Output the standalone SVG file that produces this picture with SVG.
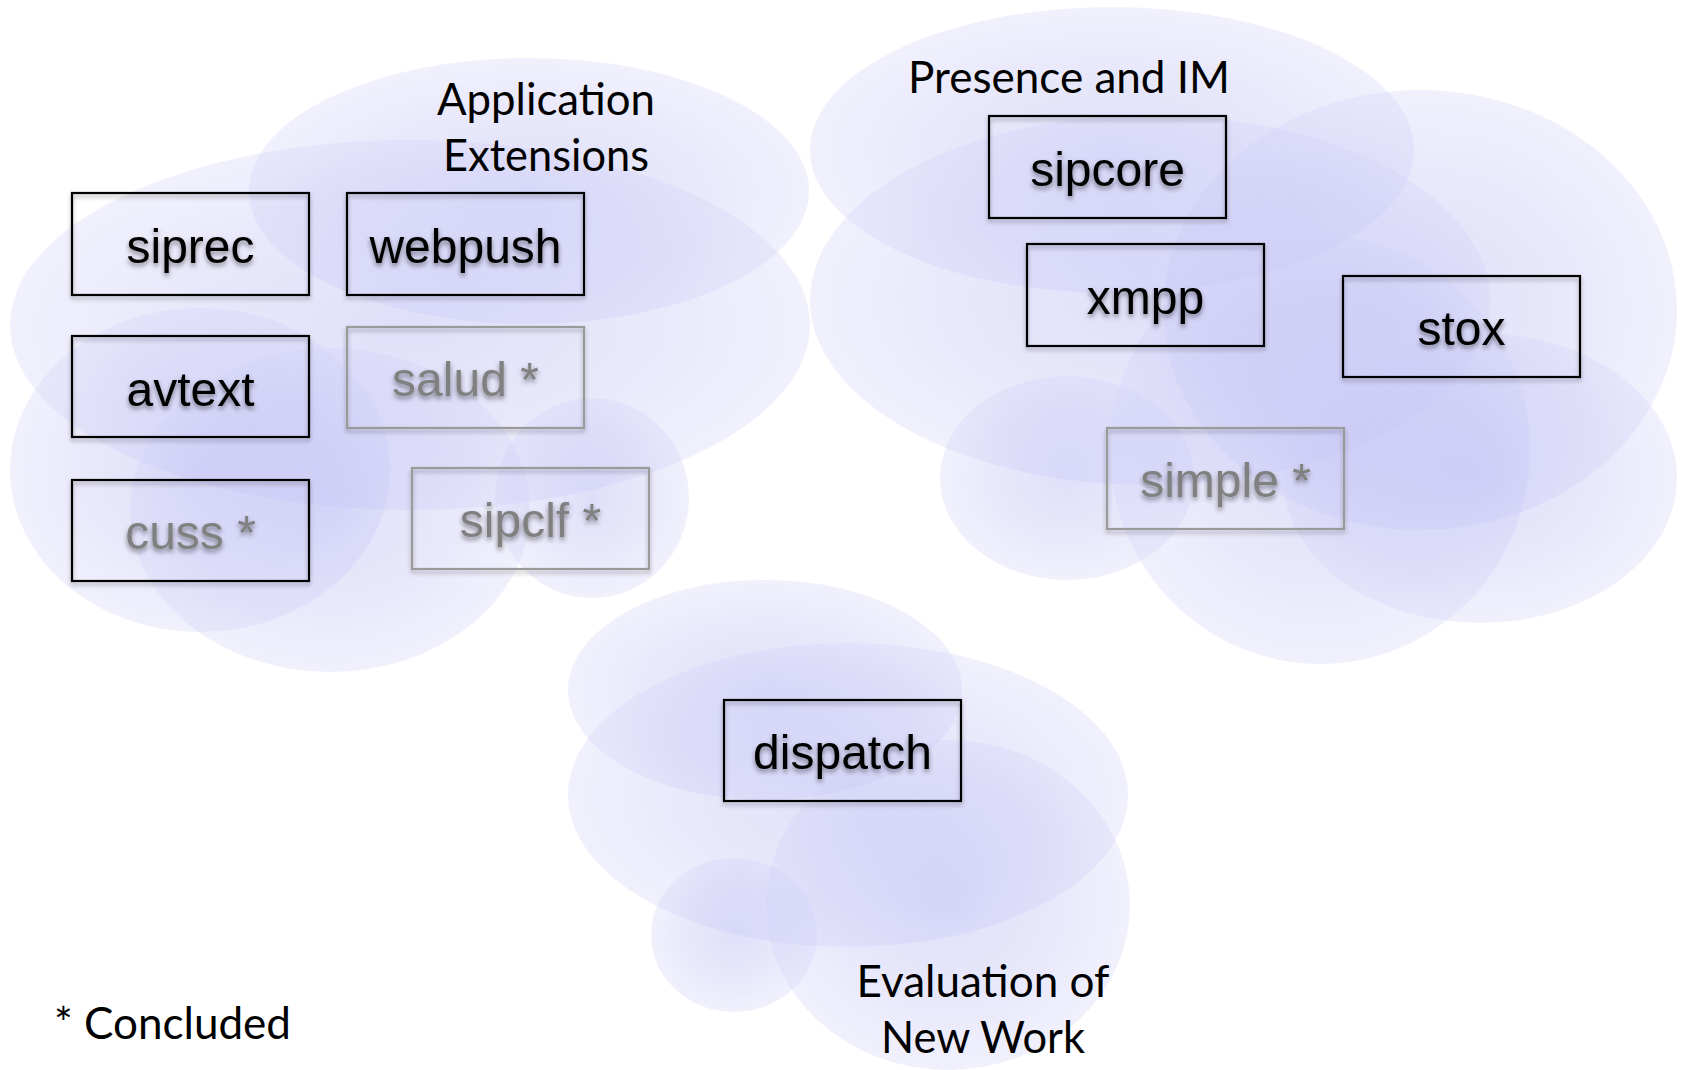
<svg xmlns="http://www.w3.org/2000/svg" width="1685" height="1070" viewBox="0 0 1685 1070">
<defs>
<radialGradient id="cg" cx="50%" cy="50%" r="50%">
<stop offset="0%" stop-color="#b6b6f3" stop-opacity="0.44"/>
<stop offset="70%" stop-color="#c4c4f5" stop-opacity="0.35"/>
<stop offset="100%" stop-color="#d0d0f8" stop-opacity="0.3"/>
</radialGradient>
<filter id="ts" x="-10%" y="-20%" width="120%" height="150%">
<feDropShadow dx="0" dy="3" stdDeviation="2.5" flood-color="#000" flood-opacity="0.45"/>
</filter>
<filter id="bs" x="-5%" y="-10%" width="110%" height="125%">
<feDropShadow dx="0" dy="3" stdDeviation="2" flood-color="#000" flood-opacity="0.3"/>
</filter>
</defs>
<style>
.c{fill:url(#cg)}
.b{fill:none;stroke:#000;stroke-width:2.2;filter:url(#bs)}
.bg{fill:none;stroke:#9a9a9a;stroke-width:2.2;filter:url(#bs)}
.t{font-family:"Liberation Sans",Arial,sans-serif;font-size:48px;fill:#000;text-anchor:middle;filter:url(#ts)}
.tg{font-family:"Liberation Sans",Arial,sans-serif;font-size:48px;fill:#808080;text-anchor:middle;filter:url(#ts)}
.l{font-family:Lato,"Open Sans",sans-serif;font-size:45px;fill:#000}
</style>
<rect width="1685" height="1070" fill="#fff"/>
<g id="clouds">
<g id="cloud-app">
<ellipse class="c" cx="529" cy="191" rx="280" ry="133"/>
<ellipse class="c" cx="410" cy="325" rx="400" ry="185"/>
<ellipse class="c" cx="200" cy="470" rx="190" ry="162"/>
<ellipse class="c" cx="330" cy="510" rx="200" ry="162"/>
<ellipse class="c" cx="592" cy="498" rx="97" ry="100"/>
</g>
<g id="cloud-pres">
<ellipse class="c" cx="1112" cy="150" rx="302" ry="143"/>
<ellipse class="c" cx="1420" cy="310" rx="257" ry="220"/>
<ellipse class="c" cx="1150" cy="300" rx="340" ry="185"/>
<ellipse class="c" cx="1067" cy="478" rx="127" ry="102"/>
<ellipse class="c" cx="1320" cy="450" rx="210" ry="214"/>
<ellipse class="c" cx="1480" cy="478" rx="197" ry="145"/>
</g>
<g id="cloud-eval">
<ellipse class="c" cx="765" cy="690" rx="197" ry="110"/>
<ellipse class="c" cx="848" cy="795" rx="280" ry="152"/>
<ellipse class="c" cx="734" cy="935" rx="83" ry="77"/>
<ellipse class="c" cx="948" cy="905" rx="182" ry="165"/>
</g>
</g>
<g id="labels">
<text class="l" x="546" y="115" text-anchor="middle" textLength="218" lengthAdjust="spacingAndGlyphs">Application</text>
<text class="l" x="546" y="171" text-anchor="middle" textLength="206" lengthAdjust="spacingAndGlyphs">Extensions</text>
<text class="l" x="1069" y="93" text-anchor="middle" textLength="322" lengthAdjust="spacingAndGlyphs">Presence and IM</text>
<text class="l" x="983" y="997" text-anchor="middle" textLength="253" lengthAdjust="spacingAndGlyphs">Evaluation of</text>
<text class="l" x="983" y="1053" text-anchor="middle" textLength="204" lengthAdjust="spacingAndGlyphs">New Work</text>
<text class="l" x="54" y="1039" textLength="237" lengthAdjust="spacingAndGlyphs">* Concluded</text>
</g>
<g id="connectors"></g>
<g id="siprec"><rect class="b" x="72" y="193" width="237" height="102"/><text class="t" x="190.5" y="263">siprec</text></g>
<g id="webpush"><rect class="b" x="347" y="193" width="237" height="102"/><text class="t" x="465.5" y="263">webpush</text></g>
<g id="avtext"><rect class="b" x="72" y="336" width="237" height="101"/><text class="t" x="190.5" y="406">avtext</text></g>
<g id="salud"><rect class="bg" x="347" y="327" width="237" height="101"/><text class="tg" x="465.5" y="396">salud *</text></g>
<g id="cuss"><rect class="b" x="72" y="480" width="237" height="101"/><text class="tg" x="190.5" y="549">cuss *</text></g>
<g id="sipclf"><rect class="bg" x="412" y="468" width="237" height="101"/><text class="tg" x="530.5" y="537">sipclf *</text></g>
<g id="sipcore"><rect class="b" x="989" y="116" width="237" height="102"/><text class="t" x="1107.5" y="186">sipcore</text></g>
<g id="xmpp"><rect class="b" x="1027" y="244" width="237" height="102"/><text class="t" x="1145.5" y="314">xmpp</text></g>
<g id="stox"><rect class="b" x="1343" y="276" width="237" height="101"/><text class="t" x="1461.5" y="345">stox</text></g>
<g id="simple"><rect class="bg" x="1107" y="428" width="237" height="101"/><text class="tg" x="1225.5" y="497">simple *</text></g>
<g id="dispatch"><rect class="b" x="724" y="700" width="237" height="101"/><text class="t" x="842.5" y="769">dispatch</text></g>
</svg>
